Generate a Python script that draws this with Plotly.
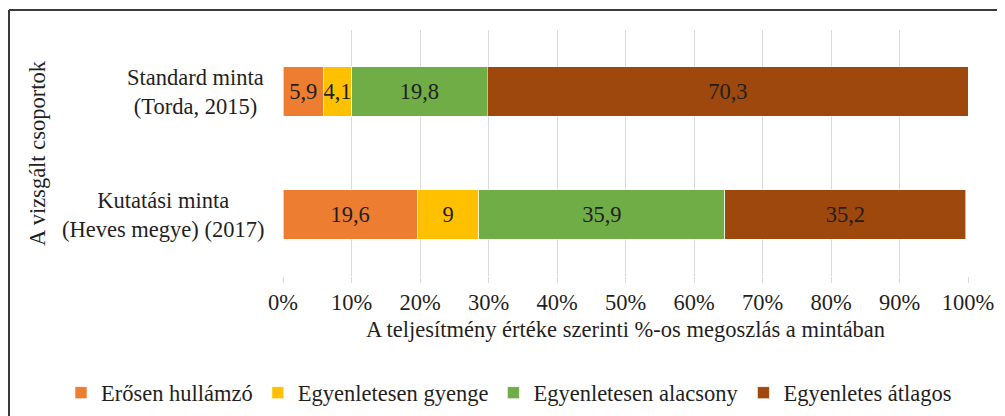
import plotly.graph_objects as go

categories = ["Standard minta<br>(Torda, 2015)", "Kutatási minta<br>(Heves megye) (2017)"]
series_names = ["Erősen hullámzó", "Egyenletesen gyenge", "Egyenletesen alacsony", "Egyenletes átlagos"]
erosen = [5.9, 19.6]
gyenge = [4.1, 9]
alacsony = [19.8, 35.9]
atlagos = [70.3, 35.2]
colors = ["#ED7D31", "#FFC000", "#70AD47", "#9E480E"]
x_ticks = [0, 10, 20, 30, 40, 50, 60, 70, 80, 90, 100]
x_tick_labels = [f"{t}%" for t in x_ticks]

FONT = "Liberation Serif"
FS = 22.5
TXT = "#1f1f1f"

W, H = 997, 408
ML, MR, MT, MB = 275, 37, 22, 140
PW, PH = W - ML - MR, H - MT - MB


def hu(v):
    return f"{v:g}".replace(".", ",")


fig = go.Figure()
for name, vals, col in zip(series_names, [erosen, gyenge, alacsony, atlagos], colors):
    fig.add_trace(go.Bar(
        y=categories, x=vals, name=name, orientation="h",
        text=[hu(v) for v in vals], texttemplate="%{text}",
        marker=dict(color=col, line=dict(color="rgba(255,255,255,0.6)", width=1)),
        textposition="inside", insidetextanchor="middle",
        textfont=dict(family=FONT, size=FS, color=TXT), textangle=0,
        constraintext="none",
    ))

for c in categories:
    fig.add_annotation(x=0, y=c, xref="paper", yref="y", text=c, showarrow=False,
                       xanchor="right", xshift=-17, align="center",
                       font=dict(family=FONT, size=FS, color=TXT))

fig.add_annotation(x=(29 - ML) / PW, y=0.5, xref="paper", yref="paper",
                   text="A vizsgált csoportok", textangle=-90, showarrow=False,
                   xanchor="center", yanchor="middle",
                   font=dict(family=FONT, size=FS, color=TXT))

# outer frame (left and top edges)
fx = (1 - ML) / PW
fy = 1 + (MT - 2) / PH
fig.add_shape(type="line", xref="paper", yref="paper",
              x0=fx, x1=fx, y0=-1.2, y1=fy, line=dict(color="#3a3a3a", width=2))
fig.add_shape(type="line", xref="paper", yref="paper",
              x0=fx, x1=1.2, y0=fy, y1=fy, line=dict(color="#3a3a3a", width=2))

fig.update_layout(
    barmode="stack", bargap=0.595,
    width=W, height=H,
    margin=dict(l=ML, r=MR, t=MT, b=MB, autoexpand=False),
    paper_bgcolor="white", plot_bgcolor="white",
    font=dict(family=FONT, size=FS, color=TXT),
    xaxis=dict(range=[0, 100], tickvals=x_ticks, ticktext=x_tick_labels,
               showgrid=True, gridcolor="#d9d9d9", gridwidth=1, zeroline=False,
               showline=False, ticks="outside", ticklen=6, tickcolor="#d9d9d9",
               tickfont=dict(family=FONT, size=FS, color=TXT),
               title=dict(text="A teljesítmény értéke szerinti %-os megoszlás a mintában",
                          font=dict(family=FONT, size=FS, color=TXT), standoff=7),
               automargin=False, fixedrange=True),
    yaxis=dict(categoryorder="array", categoryarray=categories[::-1],
               showticklabels=False, showgrid=False, zeroline=False, ticks="",
               automargin=False),
    legend=dict(orientation="h", x=(53 - ML) / PW, xanchor="left",
                y=(PH - (385 - MT)) / PH, yanchor="middle", traceorder="normal",
                font=dict(family=FONT, size=FS, color=TXT)),
    showlegend=True,
)

fig.write_html("out.html")
